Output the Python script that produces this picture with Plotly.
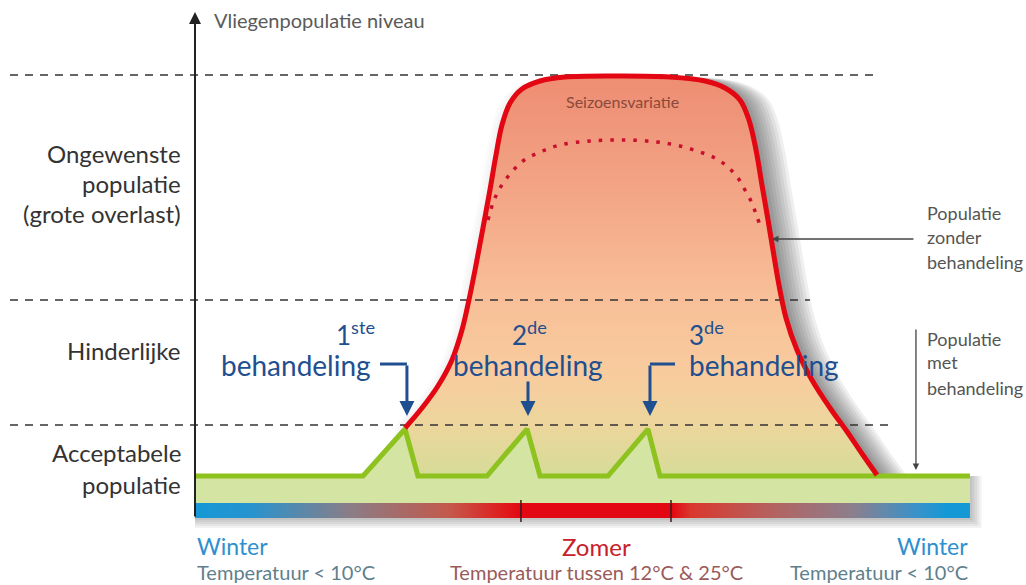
import plotly.graph_objects as go

# ---------------- data (x: season 0..100, y: population level 0..100) ----------------
season_x = [27.10, 29.29, 31.35, 33.16, 34.45, 35.35, 36.26, 37.16, 38.06, 38.84, 39.61, 40.65,
            42.19, 44.52, 47.74, 54.84, 61.29, 65.81, 68.39, 70.32, 71.48, 72.39, 73.16, 73.94,
            74.58, 75.35, 76.26, 77.68, 79.61, 81.94, 84.26, 86.19, 88.00]
pop_untreated = [20.32, 24.83, 29.80, 35.67, 42.44, 49.21, 57.11, 65.46, 74.04, 81.94, 88.71, 93.68,
                 96.84, 98.65, 99.55, 99.77, 99.55, 98.65, 97.07, 94.36, 89.84, 83.07, 75.17, 67.27,
                 60.50, 52.60, 45.15, 37.92, 31.15, 24.83, 19.19, 14.22, 9.71]

variation_x = [37.81, 38.45, 39.35, 40.65, 42.32, 44.52, 47.10, 50.97, 55.48, 59.61, 62.58, 65.16,
               67.10, 68.77, 70.06, 70.97, 71.87, 72.52, 73.16]
variation_y = [67.27, 71.11, 74.49, 77.65, 80.59, 82.62, 84.20, 85.10, 85.33, 84.88, 83.97, 82.62,
               81.26, 79.23, 76.75, 74.04, 71.11, 67.95, 65.01]

treated_x = [0, 21.68, 27.10, 28.77, 37.68, 42.84, 44.52, 53.29, 58.45, 60.0, 100]
treated_y = [9.48, 9.48, 20.09, 9.48, 9.48, 20.09, 9.48, 9.48, 20.09, 9.48, 9.48]

base_level = 9.48
bar_top, bar_bottom = 3.39, 0.0
season_ticks = [42.06, 61.42]

threshold_levels = [100.0, 49.21, 20.99]
threshold_start = -23.87
threshold_end = [88.39, 79.35, 89.68]

left_labels = ["Ongewenste", "populatie", "(grote overlast)", "Hinderlijke", "Acceptabele", "populatie"]
left_label_y = [82.39, 75.40, 68.85, 37.92, 14.90, 7.67]

treat_numbers = ["1<sup>ste</sup>", "2<sup>de</sup>", "3<sup>de</sup>"]
treat_x = [27.35, 42.97, 58.71]

# ---------------- figure ----------------
fig = go.Figure()
FONT = "Lato"
BLUE = "#1f4f8f"

def nohover(**kw):
    return dict(hoverinfo="skip", showlegend=False, **kw)

# shadow of the untreated-population shape
for k in range(1, 10):
    dx = k * 3.2 / 7.75
    fig.add_trace(go.Scatter(
        x=[season_x[0] + dx] + [v + dx for v in season_x] + [season_x[-1] + dx],
        y=[base_level] + pop_untreated + [base_level],
        mode="lines", line=dict(width=0), line_shape="spline", fill="toself",
        fillcolor="rgba(40,40,40,0.075)", **nohover()))
for k in range(1, 5):
    dx = k * 2.5 / 7.75
    fig.add_trace(go.Scatter(
        x=[season_x[0] - dx] + [v - dx for v in season_x] + [season_x[-1] - dx],
        y=[base_level] + pop_untreated + [base_level],
        mode="lines", line=dict(width=0), line_shape="spline", fill="toself",
        fillcolor="rgba(40,40,40,0.02)", **nohover()))

# shadow under bar
for k in range(1, 6):
    d = k * 2.0 / 4.43
    fig.add_trace(go.Scatter(
        x=[0, 100 + k * 0.3, 100 + k * 0.3, 0, 0],
        y=[base_level, base_level, bar_bottom - d, bar_bottom - d, base_level],
        mode="lines", line=dict(width=0), fill="toself",
        fillcolor="rgba(40,40,40,0.06)", **nohover()))

# untreated population area with vertical gradient
fig.add_trace(go.Scatter(
    x=[season_x[0]] + season_x + [season_x[-1]],
    y=[base_level] + pop_untreated + [base_level],
    mode="lines", line=dict(width=0), line_shape="spline", fill="toself",
    fillgradient=dict(type="vertical", colorscale=[
        [0.0, "#d6dc98"], [0.12, "#ebd69c"], [0.25, "#f8cc9e"], [0.45, "#f8bf98"],
        [0.70, "#f3a686"], [0.93, "#ef9277"], [1.0, "#ee8e73"]]),
    **nohover()))

# green (treated) area
fig.add_trace(go.Scatter(
    x=treated_x + [100, 0, 0], y=treated_y + [bar_top, bar_top, treated_y[0]],
    mode="lines", line=dict(width=0), fill="toself", fillcolor="#d3e4a3", **nohover()))

# temperature bar
fig.add_trace(go.Scatter(
    x=[0, 100, 100, 0, 0], y=[bar_top, bar_top, bar_bottom, bar_bottom, bar_top],
    mode="lines", line=dict(width=0), fill="toself",
    fillgradient=dict(type="horizontal", colorscale=[
        [0.0, "#1598d6"], [0.07, "#2694cf"], [0.2, "#8a7d86"], [0.33, "#c4584a"],
        [0.40, "#e01a1c"], [0.42, "#e30613"], [0.615, "#e30613"], [0.64, "#d9382e"],
        [0.75, "#b26462"], [0.85, "#8b7f8d"], [0.93, "#3a92c9"], [0.97, "#1598d6"], [1.0, "#1598d6"]]),
    **nohover()))
for tx in season_ticks:
    fig.add_trace(go.Scatter(x=[tx, tx], y=[4.06, -0.9], mode="lines",
                             line=dict(color="#3a1a1a", width=1.5), **nohover()))

# threshold dashed lines
for lvl, xe in zip(threshold_levels, threshold_end):
    fig.add_trace(go.Scatter(x=[threshold_start, xe], y=[lvl, lvl], mode="lines",
                             line=dict(color="#333333", width=1.6, dash="8px,7px"), **nohover()))

# dotted seasonal variation
fig.add_trace(go.Scatter(x=variation_x, y=variation_y, mode="lines", line_shape="spline",
                         line=dict(color="#c8102e", width=3.5, dash="3.5px,8px"), **nohover()))

# treated line
fig.add_trace(go.Scatter(x=treated_x, y=treated_y, mode="lines",
                         line=dict(color="#8dc21f", width=5), **nohover()))

# untreated line
fig.add_trace(go.Scatter(x=season_x, y=pop_untreated, mode="lines", line_shape="spline",
                         line=dict(color="#e30613", width=5), **nohover()))

# y axis line with arrow
fig.add_annotation(x=0, y=114.2, ax=0, ay=bar_bottom, xref="x", yref="y", axref="x", ayref="y",
                   showarrow=True, arrowhead=2, arrowsize=1.2, arrowwidth=2, arrowcolor="#222222", text="")
fig.add_annotation(x=2.19, y=112.4, text="Vliegenpopulatie niveau", showarrow=False, xanchor="left",
                   font=dict(family=FONT, size=20, color="#5a5a5a"))

# left labels
for t, yy in zip(left_labels, left_label_y):
    fig.add_annotation(x=-1.55, y=yy, text=t, showarrow=False, xanchor="right",
                       font=dict(family=FONT, size=24, color="#333333"))

# treatment labels
BEH = 28
NUM = 26
fig.add_annotation(x=22.97, y=34.54, text="behandeling", showarrow=False, xanchor="right",
                   font=dict(family=FONT, size=BEH, color=BLUE))
fig.add_annotation(x=20.77, y=41.6, text=treat_numbers[0], showarrow=False,
                   font=dict(family=FONT, size=NUM, color=BLUE))
fig.add_annotation(x=42.97, y=34.54, text="behandeling", showarrow=False,
                   font=dict(family=FONT, size=BEH, color=BLUE))
fig.add_annotation(x=43.1, y=41.6, text=treat_numbers[1], showarrow=False,
                   font=dict(family=FONT, size=NUM, color=BLUE))
fig.add_annotation(x=63.48, y=34.54, text="behandeling", showarrow=False, xanchor="left",
                   font=dict(family=FONT, size=BEH, color=BLUE))
fig.add_annotation(x=63.48, y=41.6, text=treat_numbers[2], showarrow=False, xanchor="left",
                   font=dict(family=FONT, size=NUM, color=BLUE))

# treatment arrows
fig.add_trace(go.Scatter(x=[23.87, treat_x[0]], y=[34.76, 34.76], mode="lines",
                         line=dict(color=BLUE, width=3), **nohover()))
fig.add_trace(go.Scatter(x=[61.94, treat_x[2]], y=[34.76, 34.76], mode="lines",
                         line=dict(color=BLUE, width=3), **nohover()))
for tx, top in zip(treat_x, [34.76, 31.15, 34.76]):
    fig.add_annotation(x=tx, y=23.02, ax=tx, ay=top, xref="x", yref="y", axref="x", ayref="y",
                       showarrow=True, arrowhead=2, arrowsize=1, arrowwidth=3, arrowcolor=BLUE, text="")

# season variation label
fig.add_annotation(x=55.1, y=94.13, text="Seizoensvariatie", showarrow=False,
                   font=dict(family=FONT, size=16, color="#8a4a3a"))

# right side labels
fig.add_annotation(x=74.45, y=62.98, ax=92.90, ay=62.98, xref="x", yref="y", axref="x", ayref="y",
                   showarrow=True, arrowhead=2, arrowsize=1, arrowwidth=1.3, arrowcolor="#444444", text="")
fig.add_annotation(x=93.03, y=10.84, ax=93.03, ay=42.89, xref="x", yref="y", axref="x", ayref="y",
                   showarrow=True, arrowhead=2, arrowsize=1, arrowwidth=1.3, arrowcolor="#444444", text="")
for t, yy in zip(["Populatie", "zonder", "behandeling", "Populatie", "met", "behandeling"],
                 [68.85, 63.43, 57.79, 40.41, 35.21, 29.35]):
    fig.add_annotation(x=94.19, y=yy, text=t, showarrow=False, xanchor="left",
                       font=dict(family=FONT, size=18, color="#555555"))

# season labels
fig.add_annotation(x=0, y=-6.32, text="Winter", showarrow=False, xanchor="left",
                   font=dict(family=FONT, size=23, color="#2f8fcf"))
fig.add_annotation(x=0, y=-12.19, text="Temperatuur &lt; 10°C", showarrow=False, xanchor="left",
                   font=dict(family=FONT, size=20, color="#5f7f8c"))
fig.add_annotation(x=51.87, y=-6.32, text="Zomer", showarrow=False,
                   font=dict(family=FONT, size=24, color="#c8202a"))
fig.add_annotation(x=51.87, y=-12.19, text="Temperatuur tussen 12°C &amp; 25°C", showarrow=False,
                   font=dict(family=FONT, size=20, color="#9a5a5a"))
fig.add_annotation(x=100, y=-6.32, text="Winter", showarrow=False, xanchor="right",
                   font=dict(family=FONT, size=23, color="#2f8fcf"))
fig.add_annotation(x=100, y=-12.19, text="Temperatuur &lt; 10°C", showarrow=False, xanchor="right",
                   font=dict(family=FONT, size=20, color="#5f7f8c"))

fig.update_layout(
    width=1026, height=585, margin=dict(l=0, r=0, t=0, b=0),
    paper_bgcolor="white", plot_bgcolor="white", showlegend=False,
    xaxis=dict(range=[-25.16, 107.23], visible=False, fixedrange=True),
    yaxis=dict(range=[-15.12, 116.93], visible=False, fixedrange=True),
)
fig.write_html("out.html", config={"displayModeBar": False},
               post_script="document.body.style.margin='0px';document.body.style.overflow='hidden';")
